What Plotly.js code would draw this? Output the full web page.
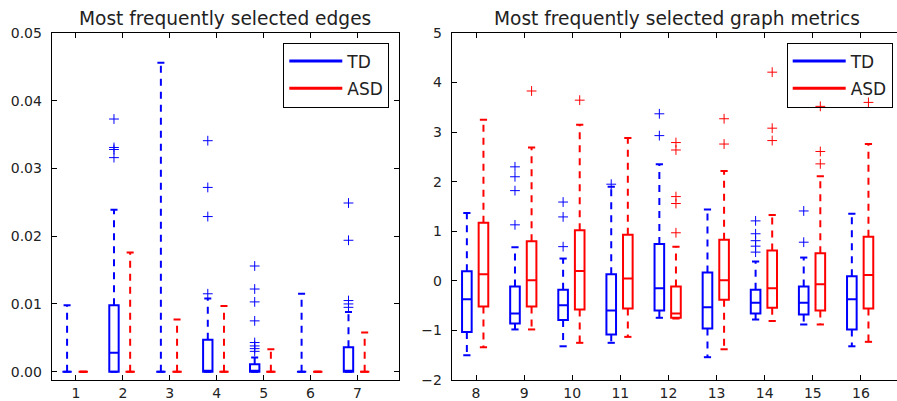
<!DOCTYPE html>
<html><head><meta charset="utf-8">
<script src="https://cdn.plot.ly/plotly-3.0.1.min.js"></script>
<style>html,body{margin:0;padding:0;overflow:hidden;background:#fff}#chart{width:910px;height:401px}</style>
</head><body><div id="chart"></div><script>
// ---------- data: left panel (edges) ----------
const edgeCats = [1, 2, 3, 4, 5, 6, 7];
const edgeTD_q1  = [0, 0, 0, 0, 0, 0, 0];
const edgeTD_med = [0, 0.0028, 0, 0, 0, 0, 0];
const edgeTD_q3  = [0, 0.0098, 0, 0.0047, 0.0011, 0, 0.0036];
const edgeTD_lo  = [0, 0, 0, 0, 0, 0, 0];
const edgeTD_hi  = [0.0098, 0.0239, 0.0456, 0.0108, 0.0021, 0.0115, 0.0088];
const edgeTD_out = [[], [0.0316, 0.0328, 0.0331, 0.0373], [], [0.0115, 0.0229, 0.0272, 0.0341],
  [0.0030, 0.0034, 0.0038, 0.0043, 0.0075, 0.0103, 0.0122, 0.0156], [], [0.0095, 0.0100, 0.0105, 0.0194, 0.0249]];
const edgeASD_q1  = [0, 0, 0, 0, 0, 0, 0];
const edgeASD_med = [0, 0, 0, 0, 0, 0, 0];
const edgeASD_q3  = [0, 0, 0, 0, 0, 0, 0];
const edgeASD_lo  = [0, 0, 0, 0, 0, 0, 0];
const edgeASD_hi  = [0, 0.0176, 0.0077, 0.0097, 0.0033, 0, 0.0058];
const edgeASD_out = [[], [], [], [], [], [], []];
const edgeTicks = [0, 0.01, 0.02, 0.03, 0.04, 0.05];

// ---------- data: right panel (graph metrics) ----------
const metCats = [8, 9, 10, 11, 12, 13, 14, 15, 16];
const metTD_q1  = [-1.03, -0.86, -0.79, -1.08, -0.60, -0.96, -0.66, -0.68, -0.98];
const metTD_med = [-0.37, -0.66, -0.49, -0.60, -0.15, -0.53, -0.44, -0.44, -0.37];
const metTD_q3  = [0.196, -0.115, -0.18, 0.135, 0.745, 0.17, -0.18, -0.115, 0.095];
const metTD_lo  = [-1.50, -0.98, -1.32, -1.25, -0.745, -1.54, -0.78, -0.88, -1.32];
const metTD_hi  = [1.37, 0.68, 0.45, 1.90, 2.35, 1.44, 0.39, 0.47, 1.355];
const metTD_out = [[], [1.13, 1.82, 2.10, 2.30], [0.69, 1.29, 1.59], [1.95], [2.93, 3.37], [],
  [0.58, 0.70, 0.81, 0.95, 1.21], [0.78, 1.41], []];
const metASD_q1  = [-0.515, -0.515, -0.58, -0.56, -0.745, -0.38, -0.54, -0.60, -0.56];
const metASD_med = [0.135, 0.01, 0.20, 0.05, -0.66, 0.01, -0.15, -0.07, 0.12];
const metASD_q3  = [1.17, 0.80, 1.02, 0.93, -0.115, 0.83, 0.61, 0.555, 0.89];
const metASD_lo  = [-1.34, -0.98, -1.25, -1.13, -0.76, -1.38, -0.81, -0.88, -1.23];
const metASD_hi  = [3.25, 2.69, 3.15, 2.88, 0.69, 2.215, 1.33, 2.11, 2.76];
const metASD_out = [[], [3.83], [3.645], [], [0.97, 1.56, 1.70, 2.64, 2.79], [2.76, 3.27],
  [2.83, 3.08, 4.21], [2.36, 2.61, 3.52], [3.60]];
const metTicks = [-2, -1, 0, 1, 2, 3, 4, 5];

const groupNames = ['TD', 'ASD'];
const BLUE = '#0000ff', RED = '#ff0000';

// ---------- styling ----------
const W = 910, H = 401;
const OFF_TD = -0.19, OFF_ASD = 0.155, BOXW = 0.2, CAPW = 0.15;

function group(cats, q1, med, q3, lo, hi, out, off, color, xa, ya) {
  const xs = cats.map(c => c + off);
  const traces = [];
  traces.push({
    type: 'box', x: xs, q1: q1, median: med, q3: q3, lowerfence: q1, upperfence: q3,
    width: BOXW, whiskerwidth: 0, boxpoints: false, fillcolor: 'rgba(0,0,0,0)',
    line: {color: color, width: 2}, xaxis: xa, yaxis: ya, showlegend: false, hoverinfo: 'skip'
  });
  const wx = [], wy = [], cx = [], cy = [];
  xs.forEach((x, i) => {
    wx.push(x, x, null, x, x, null);
    wy.push(q3[i], hi[i], null, q1[i], lo[i], null);
    cx.push(x - CAPW / 2, x + CAPW / 2, null, x - CAPW / 2, x + CAPW / 2, null);
    cy.push(hi[i], hi[i], null, lo[i], lo[i], null);
  });
  traces.push({type: 'scatter', mode: 'lines', x: wx, y: wy, connectgaps: false,
    line: {color: color, width: 2, dash: '7px,6px'}, xaxis: xa, yaxis: ya, showlegend: false, hoverinfo: 'skip'});
  traces.push({type: 'scatter', mode: 'lines', x: cx, y: cy, connectgaps: false,
    line: {color: color, width: 2}, xaxis: xa, yaxis: ya, showlegend: false, hoverinfo: 'skip'});
  const ox = [], oy = [];
  out.forEach((arr, i) => arr.forEach(v => { ox.push(xs[i]); oy.push(v); }));
  traces.push({type: 'scatter', mode: 'markers', x: ox, y: oy,
    marker: {symbol: 'cross-thin', size: 7, line: {color: color, width: 1}, color: color},
    xaxis: xa, yaxis: ya, showlegend: false, hoverinfo: 'skip'});
  return traces;
}

let data = [];
data = data.concat(group(edgeCats, edgeTD_q1, edgeTD_med, edgeTD_q3, edgeTD_lo, edgeTD_hi, edgeTD_out, OFF_TD, BLUE, 'x', 'y'));
data = data.concat(group(edgeCats, edgeASD_q1, edgeASD_med, edgeASD_q3, edgeASD_lo, edgeASD_hi, edgeASD_out, OFF_ASD, RED, 'x', 'y'));
data = data.concat(group(metCats, metTD_q1, metTD_med, metTD_q3, metTD_lo, metTD_hi, metTD_out, OFF_TD, BLUE, 'x2', 'y2'));
data = data.concat(group(metCats, metASD_q1, metASD_med, metASD_q3, metASD_lo, metASD_hi, metASD_out, OFF_ASD, RED, 'x2', 'y2'));

// legend entries
[['legend', 'x', 'y'], ['legend2', 'x2', 'y2']].forEach(([lg, xa, ya]) => {
  groupNames.forEach((nm, k) => {
    data.push({type: 'scatter', mode: 'lines', x: [null], y: [null], name: nm,
      legendgroup: lg + nm, line: {color: k === 0 ? BLUE : RED, width: 3},
      xaxis: xa, yaxis: ya, legend: lg, hoverinfo: 'skip'});
  });
});

const FONT = 'DejaVu Sans, sans-serif';
const axBase = {
  showline: true, linecolor: '#000', linewidth: 1, mirror: 'allticks',
  ticks: 'inside', ticklen: 5, tickcolor: '#000', tickwidth: 1,
  showgrid: false, zeroline: false, fixedrange: true,
  tickfont: {family: FONT, size: 14, color: '#222'}
};
const yTop = 33, yBot = 380;
const legBase = {
  bordercolor: '#000', borderwidth: 1, bgcolor: 'rgba(255,255,255,0)',
  font: {family: FONT, size: 17, color: '#222'},
  xanchor: 'right', yanchor: 'top', y: 1 - (42.5 - yTop) / (yBot - yTop),
  tracegroupgap: 2, itemwidth: 53
};
const layout = {
  width: W, height: H, paper_bgcolor: '#fff', plot_bgcolor: '#fff',
  margin: {l: 0, r: 0, t: yTop, b: H - yBot},
  showlegend: true,
  xaxis: Object.assign({}, axBase, {domain: [51.7 / W, 399 / W], range: [0.482, 7.887],
    tickvals: edgeCats, ticktext: edgeCats.map(String)}),
  yaxis: Object.assign({}, axBase, {domain: [0, 1], range: [-0.00123, 0.05],
    tickvals: edgeTicks, tickformat: '.2f', ticklabelstandoff: 6}),
  xaxis2: Object.assign({}, axBase, {domain: [451.7 / W, 903 / W], range: [7.495, 16.873],
    tickvals: metCats, ticktext: metCats.map(String), anchor: 'y2'}),
  yaxis2: Object.assign({}, axBase, {domain: [0, 1], range: [-2, 5],
    tickvals: metTicks, anchor: 'x2', ticklabelstandoff: 6}),
  legend: Object.assign({}, legBase, {x: 389.3 / W}),
  legend2: Object.assign({}, legBase, {x: 892.7 / W}),
  annotations: [
    {text: 'Most frequently selected edges', xref: 'paper', yref: 'paper',
     x: (51.7 + 399) / 2 / W, y: 1, xanchor: 'center', yanchor: 'bottom', yshift: 2, showarrow: false,
     font: {family: FONT, size: 18.6, color: '#222'}},
    {text: 'Most frequently selected graph metrics', xref: 'paper', yref: 'paper',
     x: (451.7 + 903) / 2 / W, y: 1, xanchor: 'center', yanchor: 'bottom', yshift: 2, showarrow: false,
     font: {family: FONT, size: 18.6, color: '#222'}}
  ]
};
Plotly.newPlot('chart', data, layout, {displayModeBar: false, staticPlot: true});
</script></body></html>
